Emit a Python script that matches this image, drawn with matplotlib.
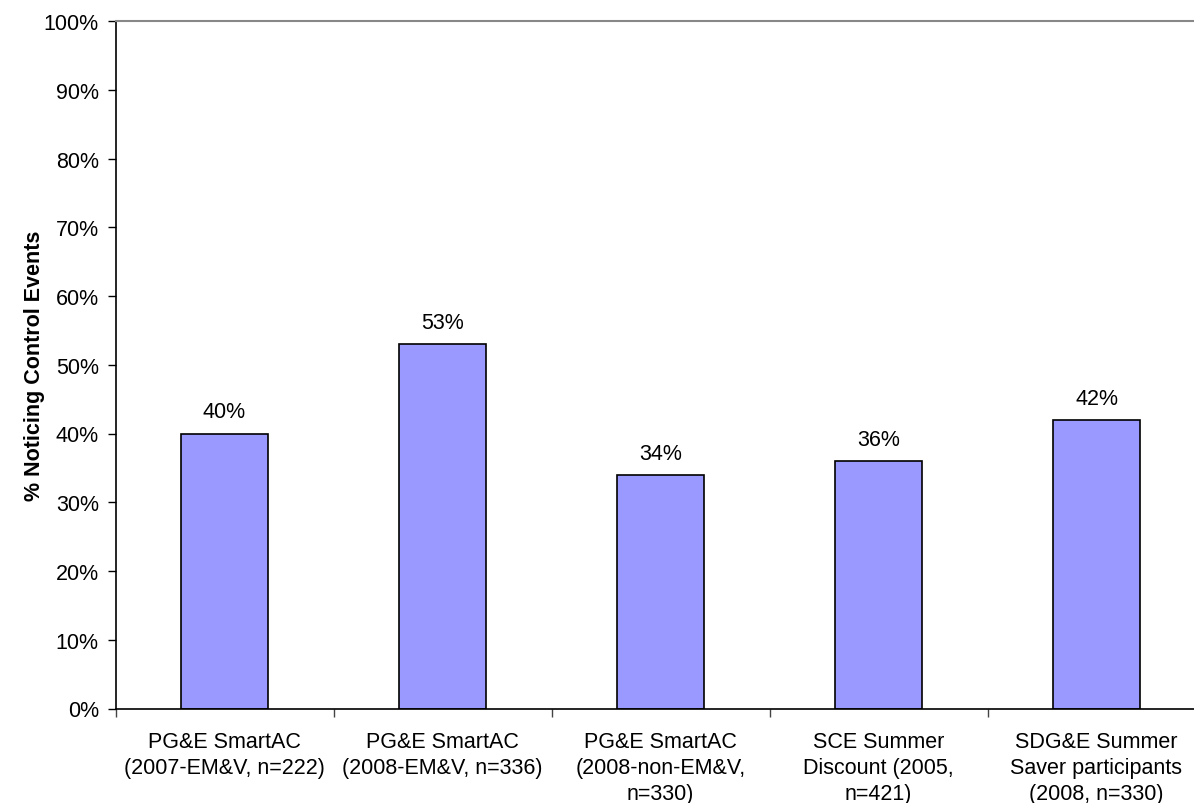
import numpy as np
import matplotlib.pyplot as plt
from matplotlib.ticker import FixedLocator, PercentFormatter

plt.rcParams['font.family'] = ['Liberation Sans', 'DejaVu Sans']

# 数据
programs = ['PG&E SmartAC\n(2007-EM&V, n=222)',
            'PG&E SmartAC\n(2008-EM&V, n=336)',
            'PG&E SmartAC\n(2008-non-EM&V,\nn=330)',
            'SCE Summer\nDiscount (2005,\nn=421)',
            'SDG&E Summer\nSaver participants\n(2008, n=330)']
noticing = [40, 53, 34, 36, 42]
y_ticks = list(range(0, 101, 10))

fs = 15.5
fig = plt.figure(figsize=(11.94, 8.04), dpi=100)
# 右边界超出画布，和原图一样被裁掉
ax = fig.add_axes([115.5 / 1194, 1 - 709.5 / 804, 1090 / 1194, 687.5 / 804])

x = np.arange(len(programs))
bars = ax.bar(x, noticing, width=0.4, color='#9999FF', edgecolor='black', linewidth=1.2)
for b, v in zip(bars, noticing):
    ax.annotate(f'{v}%', (b.get_x() + b.get_width() / 2, v), xytext=(0, 8),
                textcoords='offset points', ha='center', va='bottom', fontsize=fs)

ax.set_xlim(-0.5, len(programs) - 0.5)
ax.set_ylim(0, 100)
ax.set_yticks(y_ticks)
ax.yaxis.set_major_formatter(PercentFormatter(decimals=0))
ax.tick_params(axis='y', labelsize=fs, length=6, width=1, direction='out', pad=6)

# 分隔刻度在类别之间，标签放在中间
ax.xaxis.set_major_locator(FixedLocator(np.arange(-0.5, len(programs), 1)))
ax.xaxis.set_major_formatter(plt.NullFormatter())
ax.xaxis.set_minor_locator(FixedLocator(x))
ax.set_xticklabels(programs, minor=True, fontsize=fs, linespacing=1.32)
ax.tick_params(axis='x', which='major', length=6, width=1, color='#444444')
ax.tick_params(axis='x', which='minor', length=0, pad=16)

ax.spines['right'].set_visible(False)
ax.spines['top'].set_color('#888888')
ax.spines['top'].set_linewidth(1.5)
ax.spines['left'].set_linewidth(1.2)
ax.spines['bottom'].set_linewidth(1.2)

ax.set_ylabel('% Noticing Control Events', fontsize=fs, fontweight='bold')
ax.yaxis.set_label_coords((45 - 115.5) / 1090, 0.5)

fig.savefig('out.png', dpi=100)
